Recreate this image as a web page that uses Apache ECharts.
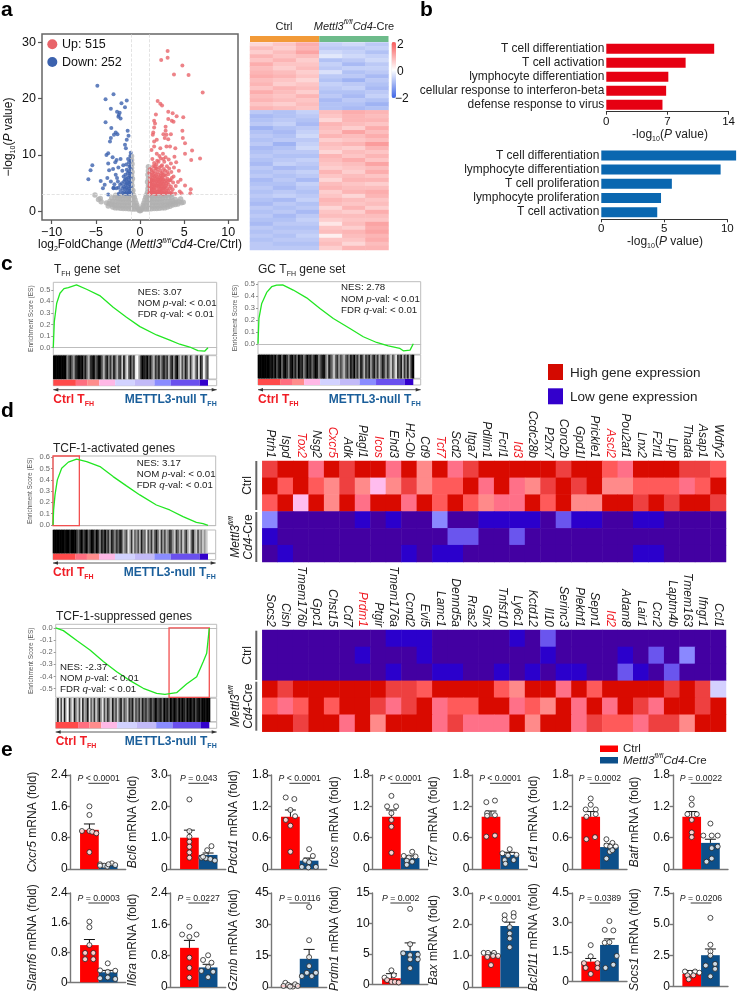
<!DOCTYPE html>
<html><head><meta charset="utf-8">
<style>html,body{margin:0;padding:0;background:#fff}#c{width:738px;height:993px}</style>
<script src="https://cdn.jsdelivr.net/npm/echarts@6/dist/echarts.min.js"></script>
</head><body><div id="c"></div>
<script>
// ---------- Panel a: volcano ----------
const volcanoUp=[[3.13,28.5],[3.13,27.3],[2.4,26.9],[4.8,25.9],[3.85,24.3],[5.5,24.2],[7.1,21.1],[2,19.6],[2.3,19.1],[2.5,18.8],[3.2,17.7],[1.8,17.2],[3.7,17.4],[4.15,16.9],[4.9,16.7],[3.2,16.4],[3.6,16.1],[3.8,15.9],[1.6,16.1],[1.7,15.6],[1.6,14.9],[2.9,15],[2.9,14.3],[4.8,14.3],[1.5,14],[1.45,13.6],[2.65,13.7],[3,13.6],[3.5,13.7],[4.85,13],[2.8,13],[1.9,12.7],[3.2,12.8],[5.1,12.1],[1.6,12.4],[3,11.5],[3.4,11.5],[2.3,11.2],[1.6,11.5],[4,11.2],[5.9,10.8],[1.3,10.9],[2.6,10.2],[5.1,10.2],[1.9,10.2],[6.8,9.4],[5.8,9.1],
[1.05,3.2],[1.1,3.8],[1.05,4.5],[1.1,5.2],[1.15,6],[1.05,6.8],[1.2,3.3],[1.25,4.1],[1.2,4.9],[1.3,5.6],[1.25,6.5],[1.3,7.4],[1.35,3.5],[1.4,4.4],[1.35,5.1],[1.45,5.9],[1.4,6.9],[1.5,3.2],[1.5,4],[1.55,4.7],[1.5,5.4],[1.6,6.2],[1.55,7.1],[1.5,8],[1.6,8.6],[1.4,9.3],[1.7,3.4],[1.65,4.2],[1.7,5],[1.75,5.8],[1.7,6.7],[1.75,7.6],[1.85,3.1],[1.9,3.9],[1.85,4.6],[1.95,5.3],[1.9,6.1],[1.85,8.3],[1.95,9],[2,7],[2.05,3.5],[2.1,4.3],[2.05,5],[2.15,5.7],[2.1,6.5],[2.15,7.8],[2.1,8.8],[2.25,3.2],[2.3,4],[2.25,4.8],[2.3,5.5],[2.35,6.3],[2.3,7.3],[2.35,9.4],[2.45,3.6],[2.5,4.5],[2.45,5.2],[2.5,6],[2.55,6.9],[2.5,8.2],[2.6,3.1],[2.65,4],[2.7,4.9],[2.65,5.7],[2.7,7.5],[2.75,8.8],[2.8,3.5],[2.85,4.4],[2.8,5.3],[2.9,6.3],[2.85,7.2],[2.9,9.6],[3,3.2],[3.05,4.1],[3,5],[3.1,5.8],[3.05,8],[3.2,3.6],[3.25,4.7],[3.2,6.6],[3.3,7.6],[3.25,9.2],[3.45,3.2],[3.5,4.4],[3.45,5.5],[3.55,7],[3.5,8.5],[3.7,3.9],[3.75,5.1],[3.8,6.2],[3.85,7.8],[3.9,9.7],[4,3.1],[4.05,4.5],[4.1,8.7],[4.3,5.2],[4.5,3.5],[4.7,3.2],[4.6,5.6],[4.4,7.2],[5.7,3.2],[5.75,3.9],[5.1,4.6],
[1.15,3.1],[1.3,3.3],[1.15,3.6],[1.3,3.9],[1.15,4.3],[1.35,4.7],[1.15,4.9],[1.2,5.5],[1.4,5.5],[1.15,7.5],[1.45,3.8],[1.6,3.3],[1.6,3.8],[1.6,4.4],[1.65,5.5],[1.45,6.4],[1.75,3.1],[1.75,4.6],[1.85,5.2],[1.8,6.4],[1.95,3.5],[2,4.5],[2,5.7],[2.15,3.2],[2.2,3.8],[2.2,4.5],[2.2,5.2],[2.2,6],[2.35,3.5],[2.4,4.3],[2.4,5],[2.4,5.8],[2.4,6.7],[2.55,3.3],[2.55,4],[2.6,4.8],[2.6,5.5],[2.6,6.3],[2.75,3.2],[2.75,4.2],[2.75,6.5],[2.95,3.7],[2.95,4.6],[2.95,5.5],[3.15,3.2],[3.15,5.2],[3.35,4],[3.35,5.5],[3.6,3.4],[3.6,5.9],[1.9,7.5],[1.7,8],[2.4,8],[3.1,7],[2.65,9.3],[2.2,9.8]];
const volcanoDown=[[-4.83,22.3],[-3,20.8],[-3.9,19.9],[-1.5,19.7],[-2.1,19.2],[-1.7,18.5],[-3.3,18.2],[-2.6,17.7],[-2.3,17.5],[-2.45,16.8],[-2.2,16.5],[-3.9,15.8],[-2.4,17.1],[-3.25,14.8],[-1.4,14.3],[-2.75,14],[-2.55,13.7],[-2.95,13.6],[-1.3,13.4],[-1.5,12.7],[-3.3,13],[-3.4,12.4],[-1.7,11.8],[-1.6,11.2],[-3.6,10.3],[-3.8,10],[-2.65,9.1],[-5.4,8.2],[-5.6,7.3],[-5.85,5.7],[-4.45,5.4],[-3.7,5.9],[-4,4.7],[-4.2,4.1],[-3.6,3],[-3,4.1],
[-1.05,3.1],[-1.1,3.7],[-1.05,4.4],[-1.1,5.1],[-1.05,5.9],[-1.1,6.7],[-1.05,7.5],[-1.1,8.2],[-1.05,9],[-1.1,9.8],[-1.05,10.4],[-1.2,3.3],[-1.25,4],[-1.2,4.8],[-1.25,5.5],[-1.2,6.3],[-1.25,7.1],[-1.2,7.9],[-1.25,8.7],[-1.35,3.1],[-1.4,3.8],[-1.35,4.5],[-1.4,5.2],[-1.35,6],[-1.4,6.8],[-1.35,9.3],[-1.5,3.4],[-1.55,4.2],[-1.5,5],[-1.55,5.8],[-1.5,7.4],[-1.55,8.3],[-1.65,3.1],[-1.7,4],[-1.65,4.7],[-1.7,5.6],[-1.65,6.5],[-1.8,3.5],[-1.85,4.4],[-1.8,5.3],[-1.85,6.2],[-1.9,8.2],[-1.95,3.2],[-2,4.1],[-2.05,5],[-2,7.2],[-2.2,3.6],[-2.25,4.7],[-2.2,9.3],[-2.4,3.1],[-2.45,4.2],[-2.5,5.3],[-2.45,7.8],[-2.7,4.1],[-2.75,6.5],[-2.8,8.7],[-3,4.2],[-3.05,7.5],[-3.1,9.6],[-3.3,5.3],[-3.5,7.3],[-3.6,8.5],[-2.9,4.8],[-2.6,5.9]];
const volcanoNs=[[-5.1,2.9],[-4.7,2.1],[-4.4,1.7],[-4.5,2.3],[-3.6,0.95],[0,0.1],[-0.1,0.2],[0.1,0.2],[-0.2,0.4],[0.2,0.4],[-0.3,0.7],[0.3,0.7],[-0.35,1.1],[0.35,1.1],[-0.45,1.5],[0.45,1.5],[-0.55,2],[0.55,2],[-0.65,2.5],[0.65,2.5],[-0.75,2.9],[0.75,2.9],
[-0.5,0.4],[-0.75,0.4],[-1,0.4],[-1.3,0.45],[-1.6,0.5],[-1.9,0.5],[-2.2,0.55],[-2.5,0.6],[-2.8,0.6],[-3.1,0.75],[0.5,0.4],[0.75,0.4],[1,0.4],[1.3,0.45],[1.6,0.5],[1.9,0.5],[2.2,0.55],[2.5,0.6],[2.8,0.6],[3.1,0.75],[3.4,0.9],[3.7,1.1],[4,1.2],[4.3,1.3],[4.7,1.5],
[-0.6,1],[-0.85,1],[-1.1,1],[-1.4,1],[-1.7,1],[-2,1],[-2.3,1.05],[-2.6,1.1],[-2.9,1.1],[-3.2,1.2],[-3.5,1.35],[-3.8,1.5],[0.6,1],[0.85,1],[1.1,1],[1.4,1],[1.7,1],[2,1],[2.3,1.05],[2.6,1.1],[2.9,1.1],[3.2,1.2],[3.5,1.35],[3.8,1.5],[4.1,1.6],[4.4,1.7],
[-0.8,1.6],[-1.05,1.6],[-1.3,1.6],[-1.6,1.6],[-1.9,1.6],[-2.2,1.6],[-2.5,1.65],[-2.8,1.7],[-3.1,1.7],[-3.4,1.8],[0.8,1.6],[1.05,1.6],[1.3,1.6],[1.6,1.6],[1.9,1.6],[2.2,1.6],[2.5,1.65],[2.8,1.7],[3.1,1.7],[3.4,1.8],[3.7,1.9],[4,2.1],
[-0.85,2.2],[-1.1,2.2],[-1.35,2.2],[-1.65,2.2],[-1.95,2.2],[-2.25,2.2],[-2.55,2.3],[-2.85,2.4],[-3.2,2.4],[0.85,2.2],[1.1,2.2],[1.35,2.2],[1.65,2.2],[1.95,2.2],[2.25,2.2],[2.55,2.3],[2.85,2.4],[3.2,2.4],[3.6,2.5],[4.6,2.2],[4.9,1.6],
[-0.9,2.8],[-1.15,2.8],[-1.45,2.8],[-1.75,2.8],[-2.05,2.8],[-2.4,2.8],[-2.75,2.85],[0.9,2.8],[1.15,2.8],[1.45,2.8],[1.75,2.8],[2.05,2.8],[2.4,2.8],[2.75,2.85],[3.1,2.9],[3.5,2.9],
[-0.9,3.4],[-0.95,4],[-0.8,3.7],[-0.9,4.6],[-0.95,5.2],[-0.85,5.8],[-0.95,6.4],[-0.9,7],[-0.95,7.7],[-0.9,8.4],[-0.95,9.1],[-0.95,9.8],[0.85,3.4],[0.9,4],[0.95,4.6],[0.85,5.2],[0.95,5.8],[0.9,6.5],[0.95,7.2],[0.95,7.9]];
const volcanoXTicks=[-10,-5,0,5,10], volcanoYTicks=[0,10,20,30];

// ---------- Panel a: heatmap (rows x Ctrl1,2,3,Cre1,2,3) ----------
const heatA=[
[.5,.7,1.0,-.6,-.5,-.7],[.8,.6,.9,-.7,-.7,-.6],[.6,.8,1.1,-.5,-.6,-.8],[.9,.7,.8,-.3,-.5,-.6],[.7,.9,.6,-.8,-.7,-.5],[1.0,.7,.7,-.6,-.9,-.7],[.8,.6,.8,-.7,-.6,-.6],[.9,.8,.6,-.4,-.8,-.7],[1.0,.9,.7,-.7,-.7,-.9],[.8,.7,.5,-.8,-1.0,-.7],[.9,.6,.7,-.6,-.7,-.8],[.7,.9,.8,-.7,-.6,-.9],[1.0,.8,.6,-.8,-.8,-.7],[.8,.7,.9,-.7,-.9,-.6],[.9,.8,.7,-.9,-.7,-.8],[.7,.6,.8,-.8,-.8,-1.0],[.9,.8,.7,-.8,-.9,-.8],
[-.7,-.8,-.6,.8,1.0,.9],[-.9,-.8,-.7,.7,.9,.8],[-.8,-.7,-.8,.5,.9,.9],[-.7,-.6,-.9,.9,.8,.7],[-1.0,-.8,-.7,.8,.6,1.0],[-.8,-.9,-.6,.7,1.1,.8],[-.7,-.8,-.5,.9,.8,1.0],[-.8,-.7,-.7,.6,.7,.8],[-.7,-1.0,-.6,.8,.9,1.2],[-.9,-.8,-.5,.7,.6,.9],[-.8,-.7,-.7,.5,.8,.7],[-.7,-.8,-.8,.9,.7,.9],[-.8,-.7,-.6,.8,1.0,.7],[-.9,-.6,-.7,.7,.8,1.1],[-.7,-.9,-.8,.6,.7,.8],[-.8,-.7,-.6,.9,.6,1.0],[-.7,-.8,-.7,.7,.8,.7],[-.9,-.7,-.9,.5,.9,.9],[-.8,-.8,-.6,.8,.7,.6],[-.7,-.9,-.7,.9,.8,.8],[-.8,-.7,-.8,.6,.9,1.0],[-.7,-.6,-.7,.7,.5,.9],[-.8,-.9,-.6,.9,.8,.7],[-.9,-.7,-.8,.8,.7,.8],[-.7,-.8,-.7,.5,.9,.6],[-.8,-.7,-.9,.7,.6,1.0],[-.7,-.9,-.7,.8,.8,.8],[-.8,-.8,-.6,.6,.7,.7],[-.9,-.7,-.7,.3,.8,1.1],[-.7,-.8,-.8,.7,.6,1.0],[-.8,-.7,-.7,.8,.9,1.1],[-.7,-.8,-.6,.2,.8,.9],[-.8,-.7,-.7,.7,.7,1.0],[-.7,-.8,-.8,.8,.5,.8],[-.7,-.7,-.7,.6,.9,.9]];

// ---------- Panel b ----------
const bTopTerms=['T cell differentiation','T cell activation','lymphocyte differentiation','cellular response to interferon-beta','defense response to virus'];
const bTopValues=[12.35,9.08,7.1,6.85,6.43];
const bBottomTerms=['T cell differentiation','lymphocyte differentiation','T cell proliferation','lymphocyte proliferation','T cell activation'];
const bBottomValues=[10.7,9.47,5.6,4.74,4.44];

// ---------- Panels c, d: GSEA ----------
const tfhCurve=[[0,0],[.65,.225],[2.2,.384],[4.3,.47],[6.9,.51],[9.7,.52],[15,.543],[21.5,.505],[30,.45],[38.7,.35],[47.3,.263],[56,.182],[66.7,.11],[75.3,.066],[81.7,.03],[88.2,.006],[93.5,-.026],[97.8,-.03],[100,0]];
const gcCurve=[[0,0],[.6,.212],[2.4,.338],[5.6,.43],[8.8,.478],[12,.492],[15.9,.494],[22.7,.45],[31.3,.385],[39.9,.296],[48.5,.212],[59.2,.128],[67.8,.059],[76.4,.011],[83.9,-.017],[91.4,-.039],[93.6,-.059],[97.9,-.053],[100,0]];
const activatedCurve=[[0,0],[.4,.133],[1.3,.266],[2.8,.399],[5.6,.502],[9.9,.556],[15.2,.582],[21.7,.561],[30.3,.517],[38.8,.428],[47.4,.346],[56,.266],[66.7,.177],[75.3,.133],[83.9,.074],[92.5,.024],[96.8,.012],[100,-.003]];
const suppressedCurve=[[0,0],[5,-.022],[13.7,-.104],[22.3,-.181],[31,-.277],[39.7,-.36],[48.4,-.434],[57,-.497],[65.7,-.538],[71.1,-.547],[78.7,-.533],[85.2,-.462],[91.8,-.401],[96.1,-.277],[98.3,-.209],[100,0]];
const tfhBarcode=[1,1,1,1,1,1,1,1,.5,.7,.9,.6,.4,.8,.9,1,.9,1,.7,.9,.5,.3,.8,.9,1,.6,.8,1,.9,.6,.3,.7,.9,.5,.8,.4,.9,.6,.3,.7,.8,.2,.9,.4,.1,.6,.9,.5,.8,.1,0,.3,.7,1,.9,.8,1,.7,.9,.5,.3,.8,.6,.9,.4,.7,.9,.6,.8,.3,.7,.9,.4,.8,1,.5,.2,.7,.4,.9,.6,.2,.8,.3,.1,.5,.8,.1,.9,.6,0,.4,.7];
const gcBarcode=[1,1,1,1,1,1,1,.9,1,.8,1,.7,.9,1,.6,.9,1,.8,.5,.9,1,.7,.9,.6,1,.8,.9,.5,.7,1,.8,.9,.6,.8,1,.9,.5,.7,.9,1,.6,.3,.9,.7,.5,.2,.6,.8,.4,.7,.5,.3,.6,.8,.5,.9,.7,1,.6,.8,.4,.9,.7,.3,.8,.6,.9,.4,.7,.9,.5,.8,.3,.6,.9,.7,.4,.8,.5,.2,.7,.4,.1,.8,.6,.9,.3,.8,.5,.9,.3,.8,1];
const activatedBarcode=[1,1,1,1,1,1,1,.95,1,1,.9,1,1,1,.8,.6,.9,1,.7,.9,1,.6,.8,1,.9,.7,1,.8,.5,.9,.7,1,.6,.8,.4,.9,.7,.5,.8,.6,.9,.8,.3,.5,.7,.1,.3,.8,.2,.6,.4,.7,.3,.9,.5,.6,.1,.7,.4,.8,.3,.6,.9,.5,.2,.8,.4,.7,.3,.5,.8,.7,.4,.2,.8,.6,.3,.7,.2,.5,.8,.3,.1,.6,.9,.4,.2,.7,.3,.5,.2,.4,.2];
const suppressedBarcode=[.2,.9,.1,.7,.1,.9,.2,0,.8,.3,.1,.9,.4,.2,.7,.1,.8,.3,.5,.9,.1,.6,.3,.8,.2,.5,.9,.4,.1,.7,.3,.8,.5,.2,.9,.4,.7,.2,.6,.9,.3,.7,.5,.2,.8,.6,.9,.3,.7,.5,.8,.4,.9,.6,.8,.5,.7,.9,.6,.8,1,.7,.8,.9,.6,1,.8,.9,.7,1,.8,1,.9,.7,1,.8,1,.9,.7,1,.9,1,.8,1,.7,.9,1,.8,1,1,.9,1,1];
const rankBandEdges=[0,14.6,21.9,29.7,40,52.7,65.4,76,94.6,100];

// ---------- Panel d: leading-edge heatmaps (levels 0 low .. 10 high) ----------
const activatedGenes=['Ptrh1','Ispd','Tox2','Nsg2','Cxcr5','Adk','Plagl1','Icos','Ehd3','H2-Ob','Cd9','Tcf7','Scd2','Itga7','Pdlim1','Fcrl1','Id3','Ccdc28b','P2rx7','Coro2b','Gpd1l','Prickle1','Ascl2','Pou2af1','Lnx2','F2rl1','Lpp','Thada','Asap1','Wdfy2'];
const activatedRed=['Tox2','Cxcr5','Icos','Tcf7','Id3','Ascl2'];
const activatedLevels=[
[9,10,10,7,10,9,10,10,7,10,6,10,7,9,10,10,10,10,10,9,10,10,8,7,10,10,10,9,9,8],
[10,8,10,8,6,9,6,5,6,9,6,8,8,10,7,10,7,6,9,10,9,10,6,6,8,8,8,7,8,10],
[8,10,5,10,6,10,7,10,10,7,10,8,10,8,6,7,7,10,8,10,6,6,10,10,9,10,9,10,10,9],
[3,0,0,0,0,0,1,0,1,0,0,3,0,0,1,1,1,1,0,2,1,1,0,0,1,1,0,0,0,0],
[1,0,0,0,0,0,0,0,0,0,0,0,2,2,0,0,2,0,0,0,0,0,0,0,0,0,0,0,0,0],
[0,1,0,0,0,0,0,0,0,1,0,1,1,0,0,0,0,0,0,0,0,0,0,0,1,1,0,0,0,0]];
const suppressedGenes=['Socs2','Cish','Tmem176b','Gpc1','Chst15','Cd7','Prdm1','Ptgir','Tmem176a','Ccnd2','Evi5','Lamc1','Dennd5a','Rras2','Glrx','Tnfsf10','Ly6c1','Kctd12','Il10','Serinc3','Plekhf1','Sepn1','Id2','Adam8','Lair1','Ccr2','Laptm4b','Tmem163','Ifngr1','Ccl1'];
const suppressedRed=['Prdm1','Id2'];
const suppressedLevels=[
[0,0,0,0,0,0,0,0,1,1,1,0,0,0,0,0,1,0,2,0,0,0,0,0,0,0,0,0,0,0],
[0,0,0,0,0,0,1,0,0,0,1,0,0,0,0,0,0,0,1,0,0,0,0,1,0,2,0,3,0,0],
[0,0,0,0,0,0,0,0,1,0,0,1,1,0,0,1,0,1,0,1,1,0,0,2,1,0,2,0,0,0],
[10,9,10,10,10,10,10,10,9,9,8,10,10,10,10,8,6,10,10,7,10,8,10,10,10,10,9,10,9,4],
[8,7,8,10,8,10,10,9,7,9,10,7,8,8,10,10,7,8,6,10,7,10,7,10,9,7,10,10,9,10],
[10,10,9,10,10,7,10,6,10,10,10,7,9,7,7,7,10,6,10,10,7,9,8,8,7,9,9,6,10,10]];

// ---------- Panel e: qPCR; dots are [group position, fold] ----------
const cxcr5Ctrl=[[1,1.6],[1,1.38],[.6,.97],[1,.97],[1.15,.95],[1.37,.91],[1,.43]];
const cxcr5Cre=[[1.57,.12],[1.79,.085],[1.96,.06],[2.2,.145],[2.38,.1],[2.02,.12],[1.57,.085]];
const bcl6Ctrl=[[1,2.22],[1,1.21],[1,1.03],[1,.87],[1,.71],[1,.53],[1,.36]];
const bcl6Cre=[[2.18,.73],[1.95,.6],[1.64,.36],[1.88,.34],[2.12,.32],[2.36,.27],[1.73,.39]];
const pdcd1Ctrl=[[.75,1.37],[1.21,1.34],[1,1.13],[1.25,1.01],[.75,.94],[1,.83],[1,.33]];
const pdcd1Cre=[[2,.38],[2.2,.25],[1.79,.16],[2,.13],[1.61,.04],[2.36,.04],[1.96,.03]];
const icosCtrl=[[1,1.4],[.77,1.2],[1.25,1.2],[1,1.07],[1,.94],[1,.81],[1,.31]];
const icosCre=[[2.11,.33],[1.66,.25],[1.93,.22],[2.29,.24],[1.82,.16],[2.11,.14],[1.82,.08]];
const tcf7Ctrl=[[.75,1.28],[1.21,1.31],[.79,1.07],[1.21,1.03],[.79,1.02],[.75,.62],[1.21,.64]];
const tcf7Cre=[[2,.38],[1.61,.3],[1.91,.26],[2.36,.27],[1.73,.17],[2.21,.17],[1.77,.1]];
const lef1Ctrl=[[1,1.35],[.73,1.14],[1.27,1.14],[1,1.23],[1.27,1.05],[.77,1],[.77,.57],[1.23,.61]];
const lef1Cre=[[1.84,.57],[2.16,.5],[1.84,.45],[2.04,.43],[2.34,.43],[2.02,.33],[1.84,.2],[2.16,.36]];
const batfCtrl=[[1,1.35],[1,1.23],[.77,1.05],[1.27,1.05],[1,.94],[1,.7],[1,.61]];
const batfCre=[[2,.87],[1.62,.64],[2.07,.64],[2.39,.64],[2.39,.43],[2.07,.4],[2.07,.2],[1.79,.14]];
const slamf6Ctrl=[[1,1.63],[1,1.48],[1,1],[.77,.79],[1.21,.79],[.77,.62],[1.21,.62]];
const slamf6Cre=[[1.98,.51],[1.57,.32],[1.98,.28],[2.38,.31],[1.57,.11],[1.98,.13],[2.38,.09]];
const il6raCtrl=[[1,1.54],[.61,1.34],[1.38,1.34],[1,1.28],[1,.75],[1,.49],[1,.24]];
const il6raCre=[[2,.81],[1.73,.69],[2.18,.62],[2,.51],[1.64,.41],[2.27,.39],[2,.25]];
const gzmbCtrl=[[.73,2],[.63,.5],[.88,1],[1.13,.2],[1.25,1.3],[1.39,.5],[.98,.2]];
const gzmbCre=[[2,38.3],[2,22.4],[2,14.3],[2,10],[2.36,6.8],[1.61,5.2],[1.88,6.8],[2.14,5.2]];
const prdm1Ctrl=[[1,2.3],[.63,1.1],[1.13,1.5],[.77,.7],[1,.4],[1.18,.4],[1.39,.3]];
const prdm1Cre=[[2,12.4],[2,6.6],[1.63,5.1],[2,4.8],[2.41,4.9],[2.41,4.1],[2,4.1],[2,2.65]];
const baxCtrl=[[.61,1.09],[.84,1.09],[1.16,1.09],[.8,.96],[1.11,.99],[1.38,.99],[1,.7]];
const baxCre=[[1.73,2.29],[2.21,2.36],[1.73,2.15],[2.21,2.24],[2,1.91],[2,1.71],[2,1.55],[2,1.27]];
const bcl2l11Ctrl=[[1,1.84],[1,1.27],[.64,.92],[1.36,.92],[.73,.68],[1,.37],[1.36,.68]];
const bcl2l11Cre=[[2,3.07],[1.75,2.62],[2.21,2.59],[1.75,1.96],[2,1.99],[2.39,1.29],[1.79,.68],[2.21,.84]];
const socs1Ctrl=[[.64,1.19],[.91,1.09],[1.18,1.19],[1.41,1.09],[.77,.88],[1.09,.88],[.84,.56]];
const socs1Cre=[[2,5.5],[2,3.34],[2,2.81],[2,2.47],[1.75,1.67],[2.25,1.8],[2.25,1.4],[2,.8]];
const qpcrGenes=['Cxcr5','Bcl6','Pdcd1','Icos','Tcf7','Lef1','Batf','Slamf6','Il6ra','Gzmb','Prdm1','Bax','Bcl2l11','Socs1'];
const qpcrMax=[2.4,3,1.8,1.8,1.8,1.8,1.8,2.4,2.4,45,15,3,4.5,7.5];
const qpcrP=['< 0.0001','= 0.043','< 0.0001','< 0.0001','< 0.0001','= 0.0002','= 0.0022','= 0.0003','= 0.0227','= 0.0116','= 0.002','< 0.0001','= 0.0389','= 0.0206'];
const qpcrMeans=[[1,.11],[1,.45],[1,.16],[1,.21],[1,.27],[1,.42],[1,.5],[1,.27],[1,.5],[1,13.5],[1,5.5],[1,1.95],[1,1.85],[1,2.5]];
const qpcrSem=[[.15,.015],[.24,.06],[.13,.05],[.13,.04],[.11,.05],[.1,.06],[.1,.07],[.15,.05],[.19,.08],[.4,4.5],[.75,1.3],[.1,.12],[.16,.31],[.27,.5]];
const qpcrCtrlDots=[cxcr5Ctrl,bcl6Ctrl,pdcd1Ctrl,icosCtrl,tcf7Ctrl,lef1Ctrl,batfCtrl,slamf6Ctrl,il6raCtrl,gzmbCtrl,prdm1Ctrl,baxCtrl,bcl2l11Ctrl,socs1Ctrl];
const qpcrCreDots=[cxcr5Cre,bcl6Cre,pdcd1Cre,icosCre,tcf7Cre,lef1Cre,batfCre,slamf6Cre,il6raCre,gzmbCre,prdm1Cre,baxCre,bcl2l11Cre,socs1Cre];

// ---------- builders ----------
const FONT='Liberation Sans';
const RICH={i:{fontStyle:'italic'},sub:{fontSize:7,verticalAlign:'bottom',lineHeight:15},sup:{fontSize:7,verticalAlign:'top',lineHeight:15},isup:{fontSize:7,fontStyle:'italic',verticalAlign:'top',lineHeight:15}};
const grid=[],xAxis=[],yAxis=[],series=[],visualMap=[],gfx=[];
function addGrid(l,t,r,b,xa,ya,gridExtra){
  const i=grid.length;
  grid.push(Object.assign({left:l,top:t,width:r-l,height:b-t},gridExtra||{}));
  xAxis.push(Object.assign({gridIndex:i},xa));
  yAxis.push(Object.assign({gridIndex:i},ya));
  return i;
}
function text(x,y,s,o){
  o=o||{};
  const size=o.size||12,weight=o.weight||'normal',color=o.color||'#111';
  const rich={};
  for(const k in RICH){rich[k]=Object.assign({fontFamily:FONT,fontSize:size,fontWeight:weight,fontStyle:'normal',fill:color},RICH[k]);}
  gfx.push({type:'text',x,y,rotation:o.rot||0,silent:true,z:50,style:{text:s,rich,fontSize:size,fontFamily:FONT,fontWeight:weight,fontStyle:o.style||'normal',fill:color,align:o.align||'left',verticalAlign:'middle'}});
}
function hideAxis(extra){return Object.assign({show:false},extra);}
function strip(gi,edges,colors){
  series.push({type:'custom',xAxisIndex:gi,yAxisIndex:gi,silent:true,data:edges.slice(0,-1).map((e,k)=>[e,edges[k+1],k]),
    renderItem(p,api){const a=api.coord([api.value(0),1]),b=api.coord([api.value(1),0]);
      return {type:'rect',shape:{x:a[0],y:a[1],width:b[0]-a[0],height:b[1]-a[1]},style:{fill:colors[api.value(2)]}};}});
}

// volcano
(function(){
  const g=addGrid(42,34,238,220,
    {type:'value',min:-11.1,max:11.1,splitLine:{show:false},axisLine:{show:false,onZero:false},axisTick:{customValues:volcanoXTicks,length:4,lineStyle:{color:'#555',width:1.2}},axisLabel:{customValues:volcanoXTicks,fontSize:12.5,color:'#111',margin:6,formatter:v=>v<0?'−'+(-v):''+v}},
    {type:'value',min:-1.55,max:31.5,splitLine:{show:false},axisLine:{show:false,onZero:false},axisTick:{customValues:volcanoYTicks,length:4,lineStyle:{color:'#555',width:1.2}},axisLabel:{customValues:volcanoYTicks,fontSize:12.5,color:'#111',margin:6}},
    {show:true,borderColor:'#666',borderWidth:1.5});
  const dash={color:'#dcdcdc',type:'dashed',width:.8,opacity:1};
  series.push({type:'scatter',xAxisIndex:g,yAxisIndex:g,symbolSize:5.4,data:volcanoNs,itemStyle:{color:'#b0b0b0'},silent:true,
    markLine:{silent:true,symbol:'none',label:{show:false},emphasis:{disabled:true},lineStyle:dash,data:[{xAxis:-1,lineStyle:dash},{xAxis:1,lineStyle:dash},{yAxis:3,lineStyle:dash}]}});
  series.push({type:'scatter',xAxisIndex:g,yAxisIndex:g,symbolSize:4,data:volcanoUp,itemStyle:{color:'#e8646a'},silent:true});
  series.push({type:'scatter',xAxisIndex:g,yAxisIndex:g,symbolSize:4,data:volcanoDown,itemStyle:{color:'#3c62ae'},silent:true});
  gfx.push({type:'circle',x:52.3,y:44.3,shape:{r:5},style:{fill:'#e8646a'},z:50,silent:true});
  gfx.push({type:'circle',x:52.3,y:62,shape:{r:5},style:{fill:'#3c62ae'},z:50,silent:true});
  text(62,44.5,'Up: 515',{size:12.5});
  text(62,62.5,'Down: 252',{size:12.5});
  text(9,137,'−log{sub|10}({i|P} value)',{size:12,rot:Math.PI/2,align:'center'});
  text(140,245,'log{sub|2}FoldChange ({i|Mettl3}{isup|fl/fl}{i|Cd4}-Cre/Ctrl)',{size:11.9,align:'center'});
})();

// heatmap a
(function(){
  const g=addGrid(250,42.5,388.5,250,hideAxis({type:'category',data:[0,1,2,3,4,5]}),hideAxis({type:'category',inverse:true,data:heatA.map((_,i)=>i)}));
  const data=[];heatA.forEach((r,i)=>r.forEach((v,j)=>data.push([j,i,v])));
  series.push({type:'heatmap',xAxisIndex:g,yAxisIndex:g,data,silent:true,progressive:0});
  visualMap.push({type:'continuous',seriesIndex:series.length-1,min:-2,max:2,left:391.5,top:42,itemWidth:4.5,itemHeight:56,padding:0,showLabel:false,text:null,calculable:false,hoverLink:false,inRange:{color:['#3f66e6','#ffffff','#f85a5a']}});
  const t=addGrid(250,36,388.5,42,hideAxis({type:'value',min:0,max:6}),hideAxis({type:'value',min:0,max:1}));
  strip(t,[0,3,6],['#f29a38','#6dbb8a']);
  text(284,26.5,'Ctrl',{size:11,align:'center',color:'#222'});
  text(354,26.5,'{i|Mettl3}{isup|fl/fl}{i|Cd4}-Cre',{size:11,align:'center',color:'#222'});
  text(397,44.5,'2',{size:12});
  text(397,71.5,'0',{size:12});
  text(395,98.5,'−2',{size:12});
})();

// panel b
function goBars(l,r,t,b,max,ticks,terms,vals,color){
  const g=addGrid(l,t,r,b,
    {type:'value',min:0,max,interval:ticks,splitLine:{show:false},axisLine:{show:true,onZero:false,lineStyle:{color:'#333',width:1}},axisTick:{show:true,length:3,lineStyle:{color:'#333'}},axisLabel:{fontSize:11.5,color:'#111',margin:4}},
    {type:'category',inverse:true,data:terms,axisLine:{show:false},axisTick:{show:false},axisLabel:{fontSize:11.95,color:'#222',margin:2,interval:0}});
  series.push({type:'bar',xAxisIndex:g,yAxisIndex:g,data:vals,barWidth:10,clip:false,itemStyle:{color},silent:true});
}
goBars(606.3,731.7,41.7,111.7,14,7,bTopTerms,bTopValues,'#e60012');
goBars(601.3,727.3,148.3,219.3,10,5,bBottomTerms,bBottomValues,'#0a67b0');
text(670,135,'-log{sub|10}({i|P} value)',{size:12,align:'center',color:'#222'});
text(665,242,'-log{sub|10}({i|P} value)',{size:12,align:'center',color:'#222'});

// GSEA panels
const bandColors=['#ff4a4a','#ff6e80','#ff8c8c','#ffb8e6','#d2d2ff','#c2baf8','#8a8cff','#6a50ee','#3300cc'];
function gsea(c){
  const rMax=100*(c.r-c.l)/(c.rEnd-c.l);
  const frame={show:true,borderColor:'#bdbdbd',borderWidth:1};
  const g=addGrid(c.l,c.top,c.r,c.bottom,
    {type:'value',min:0,max:rMax,splitLine:{show:false},axisTick:{show:false},axisLabel:{show:false},axisLine:{show:true,onZero:true,lineStyle:{color:'#bdbdbd',width:1}}},
    {type:'value',min:c.ymin,max:c.ymax,name:'Enrichment Score (ES)',nameLocation:'middle',nameGap:c.nameGap||19,nameRotate:90,nameTextStyle:{fontSize:6.5,color:'#555'},splitLine:{show:false},axisLine:{show:false,onZero:false},axisTick:{customValues:c.ticks,length:2,lineStyle:{color:'#999'}},axisLabel:{customValues:c.ticks,fontSize:7.5,color:'#666',margin:3,formatter:v=>v.toFixed(1)}},
    frame);
  const s={type:'line',xAxisIndex:g,yAxisIndex:g,data:c.curve,showSymbol:false,lineStyle:{color:'#22e622',width:1.3},silent:true,z:5};
  if(c.box)s.markArea={silent:true,itemStyle:{color:'rgba(0,0,0,0)',borderColor:'#f25050',borderWidth:1.3},data:[[{coord:[c.box[0],c.box[2]]},{coord:[c.box[1],c.box[3]]}]]};
  series.push(s);
  const cells=Math.round(c.bar.length*rMax/100);
  const bg=addGrid(c.l,c.barTop,c.r,c.barBot,hideAxis({type:'category',data:Array.from({length:cells},(_,i)=>i)}),hideAxis({type:'category',data:[0]}),frame);
  series.push({type:'heatmap',xAxisIndex:bg,yAxisIndex:bg,data:c.bar.map((v,i)=>[i,0,v]),silent:true,progressive:0});
  visualMap.push({type:'continuous',show:false,seriesIndex:series.length-1,min:0,max:1,inRange:{color:['#ffffff','#000000']}});
  const bd=addGrid(c.l,c.bandTop,c.r,c.bandBot,hideAxis({type:'value',min:0,max:rMax}),hideAxis({type:'value',min:0,max:1}),frame);
  strip(bd,rankBandEdges,bandColors);
  // arrow
  gfx.push({type:'line',shape:{x1:c.l,y1:c.arrowY,x2:c.r,y2:c.arrowY},style:{stroke:'#333',lineWidth:.8},silent:true,z:50});
  gfx.push({type:'polygon',shape:{points:[[c.l,c.arrowY],[c.l+5,c.arrowY-1.8],[c.l+5,c.arrowY+1.8]]},style:{fill:'#333'},silent:true,z:50});
  gfx.push({type:'polygon',shape:{points:[[c.r,c.arrowY],[c.r-5,c.arrowY-1.8],[c.r-5,c.arrowY+1.8]]},style:{fill:'#333'},silent:true,z:50});
  text(c.l,c.arrowY+10,'Ctrl T{sub|FH}',{size:12,weight:'bold',color:'#f01c24'});
  text(c.r,c.arrowY+10,'METTL3-null T{sub|FH}',{size:12,weight:'bold',color:'#1a5e9a',align:'right'});
  text(c.titleX,c.titleY,c.title,{size:12,color:'#222'});
  c.nes.forEach((s,i)=>text(c.nesX,c.nesYs[i],s,{size:9.7,color:'#222'}));
}
gsea({l:53.3,rEnd:208,r:216.7,top:282.3,bottom:355,ymin:-.063,ymax:.565,ticks:[0,.1,.2,.3,.4,.5],curve:tfhCurve,bar:tfhBarcode,
  barTop:355.7,barBot:379,bandTop:379.7,bandBot:385.7,arrowY:389.7,title:'T{sub|FH} gene set',titleX:54,titleY:270,
  nes:['NES: 3.07','NOM {i|p}-val: < 0.01','FDR {i|q}-val: < 0.01'],nesX:137.7,nesYs:[292,303.7,314.3]});
gsea({l:258,rEnd:413.3,r:420.7,top:281.7,bottom:354.3,ymin:-.088,ymax:.52,ticks:[0,.1,.2,.3,.4,.5],curve:gcCurve,bar:gcBarcode,
  barTop:355,barBot:378.3,bandTop:379,bandBot:385,arrowY:389.7,title:'GC T{sub|FH} gene set',titleX:258,titleY:270,
  nes:['NES: 2.78','NOM {i|p}-val: < 0.01','FDR {i|q}-val: < 0.01'],nesX:341,nesYs:[287.7,299,310]});
gsea({l:53,rEnd:208,r:215.7,top:456,bottom:525.7,ymin:-.006,ymax:.61,ticks:[0,.1,.2,.3,.4,.5,.6],curve:activatedCurve,bar:activatedBarcode,box:[0,17,-.006,.61],
  barTop:530,barBot:553.3,bandTop:553.7,bandBot:559.7,arrowY:563,title:'TCF-1-activated genes',titleX:53,titleY:448.3,
  nes:['NES: 3.17','NOM {i|p}-val: < 0.01','FDR {i|q}-val: < 0.01'],nesX:136.7,nesYs:[463.3,474.3,485.3]});
gsea({l:55.7,rEnd:209.3,r:216.7,top:624.3,bottom:697.3,ymin:-.571,ymax:.03,ticks:[0,-.1,-.2,-.3,-.4,-.5],curve:suppressedCurve,bar:suppressedBarcode,box:[73.8,100,-.571,0],nameGap:21,
  barTop:698.3,barBot:721.7,bandTop:722,bandBot:728.3,arrowY:732,title:'TCF-1-suppressed genes',titleX:56,titleY:616.7,
  nes:['NES: -2.37','NOM {i|p}-val: < 0.01','FDR {i|q}-val: < 0.01'],nesX:60,nesYs:[667.7,678.7,689.7]});

// expression legend
gfx.push({type:'rect',shape:{x:548,y:364,width:15,height:16},style:{fill:'#d40a00'},silent:true,z:50});
gfx.push({type:'rect',shape:{x:548,y:388.3,width:15,height:16},style:{fill:'#3300cc'},silent:true,z:50});
text(570,373,'High gene expression',{size:13.5,color:'#222'});
text(570,397,'Low gene expression',{size:13.5,color:'#222'});

// leading-edge heatmaps
const levelColors=['#4300a2','#2b00cc','#6a55ee','#8a88ff','#d4d0ff','#ffbcee','#ff8a8a','#ff7088','#ff5a5a','#ee4040','#d90a00'];
function genes(t,b,names,reds,levels){
  const g=addGrid(262.3,t,726,b,
    {type:'category',position:'top',data:names,axisLine:{show:false},axisTick:{show:false},axisLabel:{interval:0,rotate:90,margin:3,fontSize:12,fontStyle:'italic',color:v=>reds.includes(v)?'#f01c24':'#222'}},
    hideAxis({type:'category',inverse:true,data:[0,1,2,3,4,5]}));
  const data=[];levels.forEach((r,i)=>r.forEach((v,j)=>data.push([j,i,v])));
  series.push({type:'heatmap',xAxisIndex:g,yAxisIndex:g,data,silent:true,progressive:0});
  visualMap.push({type:'continuous',show:false,seriesIndex:series.length-1,min:0,max:10,inRange:{color:levelColors}});
}
genes(461,562,activatedGenes,activatedRed,activatedLevels);
genes(630,731.7,suppressedGenes,suppressedRed,suppressedLevels);
[[461,510,512,562],[630.7,680,681.7,730.7]].forEach(a=>{
  gfx.push({type:'line',shape:{x1:256.3,y1:a[0],x2:256.3,y2:a[1]},style:{stroke:'#666',lineWidth:2},silent:true,z:50});
  gfx.push({type:'line',shape:{x1:256.3,y1:a[2],x2:256.3,y2:a[3]},style:{stroke:'#666',lineWidth:2},silent:true,z:50});
  text(248,(a[0]+a[1])/2,'Ctrl',{size:12,rot:Math.PI/2,align:'center',color:'#222'});
  text(235.5,(a[2]+a[3])/2,'{i|Mettl3}{isup|fl/fl}',{size:12,rot:Math.PI/2,align:'center',color:'#222'});
  text(248.5,(a[2]+a[3])/2,'{i|Cd4}-Cre',{size:12,rot:Math.PI/2,align:'center',color:'#222'});
});

// qPCR panels
const qpcrAxisX=[70.7,170.7,271.7,372.7,472.3,572,673];
const qpcrRows=[[775,869],[893,987.3]];
const RED='#ff0000',BLUE='#0c4f8a';
qpcrGenes.forEach((gene,i)=>{
  const col=i%7,row=i<7?0:1,x0=qpcrAxisX[col],[t,b]=qpcrRows[row],max=qpcrMax[i];
  const dec=(max===45||max===15)?0:1;
  const g=addGrid(x0,t,x0+55,b,
    {type:'value',min:0,max:2.94,splitLine:{show:false},axisTick:{show:false},axisLabel:{show:false},axisLine:{show:true,lineStyle:{color:'#777',width:1.4}}},
    {type:'value',min:0,max,interval:max/3,name:'{i|'+gene+'} mRNA (fold)',nameLocation:'middle',nameGap:32.5,nameRotate:90,
     nameTextStyle:{fontSize:12,color:'#222',rich:{i:{fontStyle:'italic',fontSize:12,color:'#222'}}},
     splitLine:{show:false},axisLine:{show:true,lineStyle:{color:'#777',width:1.4}},axisTick:{show:true,length:3.5,lineStyle:{color:'#777',width:1.4}},
     axisLabel:{fontSize:12,color:'#111',margin:3,formatter:v=>Math.abs(v)<1e-6?'0':v.toFixed(dec)}});
  series.push({type:'bar',xAxisIndex:g,yAxisIndex:g,barWidth:18.7,silent:true,
    data:[{value:[1,qpcrMeans[i][0]],itemStyle:{color:RED}},{value:[2,qpcrMeans[i][1]],itemStyle:{color:BLUE}}]});
  series.push({type:'custom',xAxisIndex:g,yAxisIndex:g,silent:true,z:3,
    data:[[1,qpcrMeans[i][0],qpcrSem[i][0]],[2,qpcrMeans[i][1],qpcrSem[i][1]]],
    renderItem(p,api){const xv=api.value(0),m=api.value(1),s=api.value(2),a=api.coord([xv,m]),c=api.coord([xv,m+s]);
      const st={stroke:'#111',lineWidth:1,fill:'none'};
      return {type:'group',children:[{type:'line',shape:{x1:a[0],y1:a[1],x2:c[0],y2:c[1]},style:st},{type:'line',shape:{x1:c[0]-5.5,y1:c[1],x2:c[0]+5.5,y2:c[1]},style:st}]};}});
  series.push({type:'scatter',xAxisIndex:g,yAxisIndex:g,silent:true,z:4,symbolSize:5,clip:false,data:qpcrCtrlDots[i].concat(qpcrCreDots[i]),itemStyle:{color:'#fff',borderColor:'#222',borderWidth:1}});
  const py=row===0?778.3:898.7, ly=row===0?783.3:903;
  text(x0+28,py,'{i|P} '+qpcrP[i],{size:8.7,align:'center',color:'#222'});
  gfx.push({type:'line',shape:{x1:x0+17.7,y1:ly,x2:x0+38.3,y2:ly},style:{stroke:'#222',lineWidth:.9},silent:true,z:50});
});
gfx.push({type:'rect',shape:{x:600,y:745.5,width:18,height:6.5},style:{fill:RED},silent:true,z:50});
gfx.push({type:'rect',shape:{x:600,y:757,width:18,height:6.5},style:{fill:BLUE},silent:true,z:50});
text(623,749,'Ctrl',{size:11.5,color:'#222'});
text(623,760.5,'{i|Mettl3}{isup|fl/fl}{i|Cd4}-Cre',{size:11.5,color:'#222'});

// panel letters
[['a',1,10],['b',420,10],['c',1,264],['d',1,411],['e',1,750]].forEach(p=>text(p[1],p[2],p[0],{size:21,weight:'bold',color:'#000'}));

const chart=echarts.init(document.getElementById('c'),null,{renderer:'canvas'});
chart.setOption({animation:false,backgroundColor:'#fff',textStyle:{fontFamily:FONT},tooltip:{show:false},grid,xAxis,yAxis,series,visualMap,graphic:{elements:gfx}});
</script></body></html>
